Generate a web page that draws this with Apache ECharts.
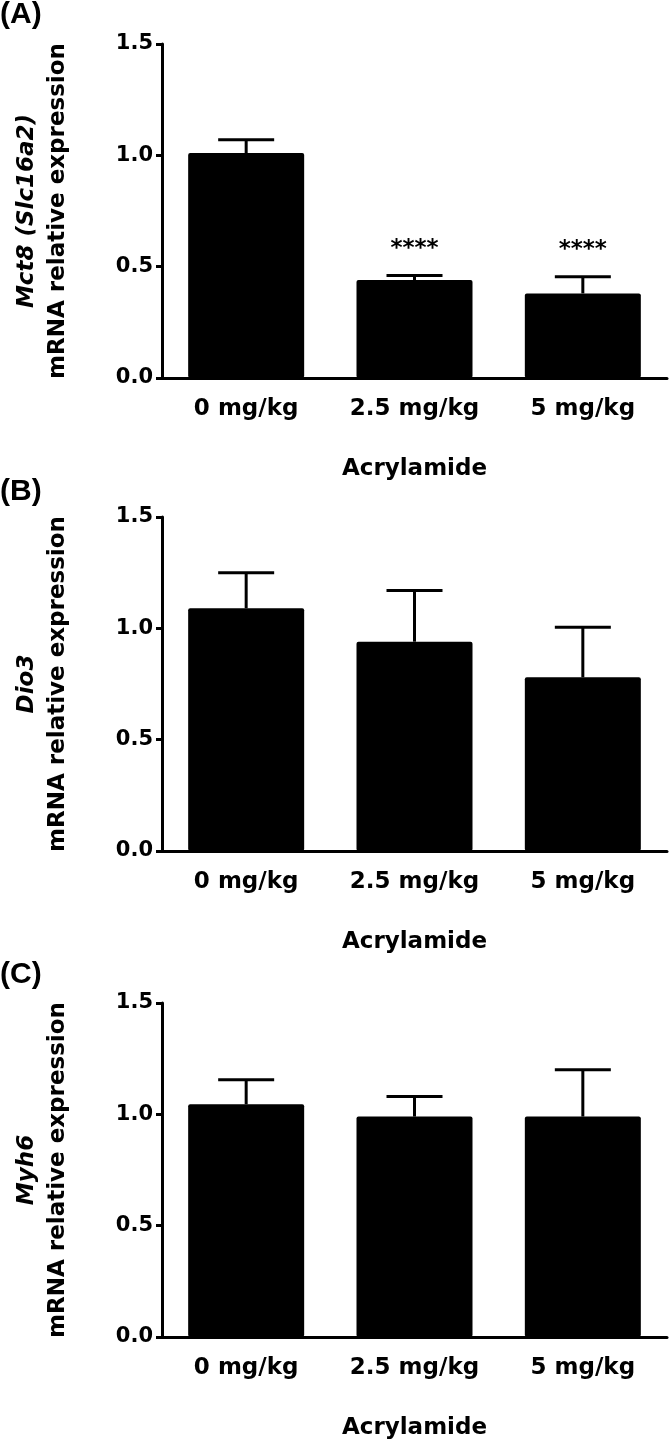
<!DOCTYPE html>
<html><head><meta charset="utf-8">
<script src="https://cdn.jsdelivr.net/npm/echarts@6/dist/echarts.min.js"></script>
<style>html,body{margin:0;padding:0;background:#fff}#c{width:670px;height:1445px}</style>
</head><body><div id="c"></div>
<script>
const categories = ['0 mg/kg', '2.5 mg/kg', '5 mg/kg'];
const yTicks = [0, 0.5, 1.0, 1.5];
const panelLetters = ['(A)', '(B)', '(C)'];
const geneNames = ['Mct8 (Slc16a2)', 'Dio3', 'Myh6'];
const xAxisTitle = 'Acrylamide';
const yAxisSubtitle = 'mRNA relative expression';

const mct8Mean = [1.01, 0.44, 0.38];
const mct8Sem  = [0.06, 0.02, 0.075];
const mct8Sig  = ['', '****', '****'];

const dio3Mean = [1.09, 0.94, 0.78];
const dio3Sem  = [0.16, 0.23, 0.225];
const dio3Sig  = ['', '', ''];

const myh6Mean = [1.045, 0.99, 0.99];
const myh6Sem  = [0.11, 0.09, 0.21];
const myh6Sig  = ['', '', ''];

const panels = [
  {mean: mct8Mean, sem: mct8Sem, sig: mct8Sig},
  {mean: dio3Mean, sem: dio3Sem, sig: dio3Sig},
  {mean: myh6Mean, sem: myh6Sem, sig: myh6Sig}
];

const FONT = '"DejaVu Sans", "Liberation Sans", sans-serif';
const LETTER_FONT = '"Liberation Sans", Arial, sans-serif';
const gridTops = [44, 517, 1003];
const gridH = 334;
const letterTops = [0, 477, 960];

const chart = echarts.init(document.getElementById('c'), null, {renderer: 'canvas'});
const grids = [], xAxes = [], yAxes = [], series = [], graphics = [];

panels.forEach((p, i) => {
  grids.push({left: 162, right: 3, top: gridTops[i], height: gridH, containLabel: false});
  xAxes.push({
    type: 'category', gridIndex: i, data: categories,
    axisLine: {lineStyle: {color: '#000', width: 3}},
    axisTick: {alignWithLabel: true, length: 11, lineStyle: {color: '#000', width: 3}},
    axisLabel: {color: '#000', fontFamily: FONT, fontWeight: 'bold', fontSize: 23, margin: 20},
    name: xAxisTitle, nameLocation: 'middle', nameGap: 80,
    nameTextStyle: {color: '#000', fontFamily: FONT, fontWeight: 'bold', fontSize: 23, verticalAlign: 'top'}
  });
  yAxes.push({
    type: 'value', gridIndex: i, min: 0, max: 1.5, interval: 0.5,
    splitLine: {show: false},
    axisLine: {show: true, lineStyle: {color: '#000', width: 3}},
    axisTick: {show: true, length: 6, lineStyle: {color: '#000', width: 3}},
    axisLabel: {color: '#000', fontFamily: FONT, fontWeight: 'bold', fontSize: 21, margin: 9,
      formatter: v => yTicks.indexOf(v) >= 0 ? v.toFixed(1) : ''},
    name: '{g|' + geneNames[i] + '}\n{n|' + yAxisSubtitle + '}',
    nameLocation: 'middle', nameGap: 88, nameRotate: 90,
    nameTextStyle: {
      rich: {
        g: {fontFamily: FONT, fontWeight: 'bold', fontStyle: 'italic', fontSize: 23, color: '#000', lineHeight: 31},
        n: {fontFamily: FONT, fontWeight: 'bold', fontSize: 23, color: '#000', lineHeight: 31}
      }
    }
  });
  series.push({
    type: 'bar', xAxisIndex: i, yAxisIndex: i, data: p.mean, barWidth: 116,
    itemStyle: {color: '#000', borderRadius: 2}, silent: true, animation: false
  });
  series.push({
    type: 'custom', xAxisIndex: i, yAxisIndex: i, animation: false, silent: true,
    data: p.mean.map((m, k) => [k, m, p.sem[k]]),
    renderItem: function (params, api) {
      const idx = api.value(0), m = api.value(1), s = api.value(2);
      const sig = p.sig[idx];
      const base = api.coord([idx, m]);
      const top = api.coord([idx, m + s]);
      const capW = 56;
      const children = [
        {type: 'line', shape: {x1: base[0], y1: base[1], x2: top[0], y2: top[1]}, style: {stroke: '#000', lineWidth: 3}},
        {type: 'line', shape: {x1: top[0] - capW / 2, y1: top[1], x2: top[0] + capW / 2, y2: top[1]}, style: {stroke: '#000', lineWidth: 3}}
      ];
      if (sig) {
        children.push({type: 'text', x: top[0], y: top[1] - 15,
          style: {text: sig, fill: '#000', font: 'bold 23px ' + FONT, align: 'center', verticalAlign: 'bottom'}});
      }
      return {type: 'group', children};
    }
  });
  graphics.push({type: 'text', left: 0, top: letterTops[i],
    style: {text: panelLetters[i], fill: '#000', font: 'bold 30px ' + LETTER_FONT}});
});

chart.setOption({
  backgroundColor: '#fff', animation: false,
  grid: grids, xAxis: xAxes, yAxis: yAxes, series, graphic: graphics
});
</script></body></html>
